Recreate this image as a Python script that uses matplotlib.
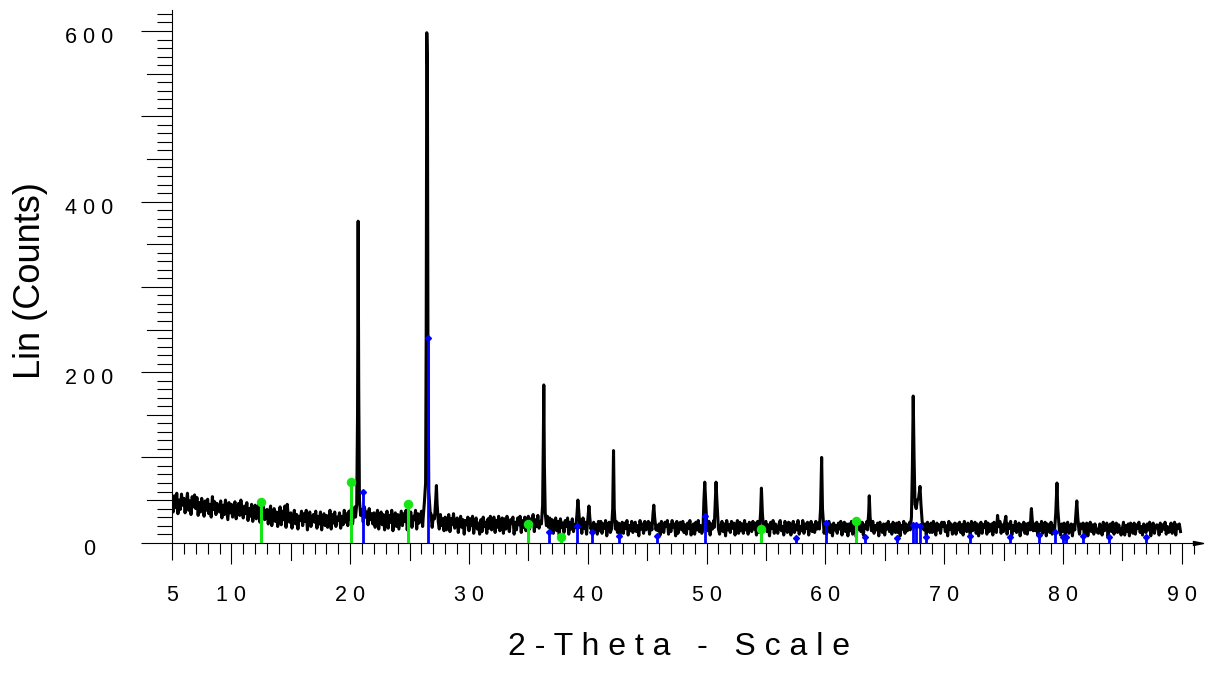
import numpy as np
import matplotlib
matplotlib.use("Agg")
import matplotlib.pyplot as plt
from matplotlib.ticker import FixedLocator
from matplotlib.transforms import blended_transform_factory, ScaledTranslation
from matplotlib.path import Path

plt.rcParams['font.family'] = ['Liberation Sans', 'DejaVu Sans']

# ---------------- data ----------------
scan_start = 5.0
scan_step = 0.1
# background counts, one row per degree (5.0 ... 89.9)
base_counts = [
    47, 36, 55, 41, 58, 34, 50, 39, 57, 44,
    52, 35, 46, 58, 38, 49, 33, 54, 42, 56,
    40, 53, 32, 47, 36, 52, 44, 31, 49, 38,
    51, 34, 45, 30, 54, 39, 48, 33, 46, 41,
    36, 49, 29, 44, 33, 50, 38, 27, 47, 35,
    45, 30, 41, 48, 28, 39, 46, 32, 50, 37,
    29, 43, 34, 47, 26, 40, 31, 45, 25, 38,
    44, 28, 36, 46, 24, 41, 30, 42, 27, 35,
    39, 22, 34, 43, 20, 31, 40, 25, 36, 19,
    33, 42, 21, 37, 27, 43, 18, 45, 30, 24,
    35, 17, 29, 38, 22, 33, 16, 31, 26, 37,
    20, 34, 25, 38, 15, 30, 36, 19, 28, 33,
    24, 37, 17, 31, 22, 36, 15, 29, 34, 20,
    32, 18, 27, 38, 16, 33, 23, 36, 19, 30,
    26, 35, 17, 31, 21, 38, 24, 34, 20, 37,
    27, 40, 22, 36, 42, 30, 35, 28, 33, 38,
    39, 24, 42, 30, 36, 21, 40, 27, 34, 22,
    35, 18, 31, 38, 16, 29, 36, 21, 33, 15,
    28, 37, 17, 32, 24, 38, 14, 30, 35, 19,
    33, 16, 27, 37, 20, 34, 25, 38, 15, 29,
    22, 36, 18, 31, 27, 38, 16, 34, 23, 30,
    37, 19, 32, 24, 35, 28, 30, 22, 34, 18,
    31, 25, 30, 22, 29, 16, 33, 20, 28, 14,
    30, 15, 26, 33, 13, 28, 21, 34, 17, 25,
    29, 12, 24, 31, 18, 27, 10, 26, 21, 30,
    14, 28, 20, 31, 11, 25, 29, 16, 23, 10,
    27, 13, 30, 19, 24, 11, 28, 17, 31, 15,
    22, 30, 12, 26, 18, 31, 14, 25, 29, 11,
    28, 16, 31, 20, 13, 27, 23, 30, 10, 24,
    15, 29, 21, 31, 12, 26, 18, 30, 14, 27,
    31, 16, 28, 22, 33, 13, 27, 19, 32, 17,
    25, 14, 30, 20, 28, 16, 31, 18, 29, 12,
    27, 11, 22, 29, 14, 25, 9, 28, 18, 23,
    12, 26, 19, 29, 10, 24, 16, 28, 13, 21,
    28, 15, 25, 20, 27, 11, 29, 17, 24, 10,
    23, 13, 26, 18, 9, 24, 15, 21, 10, 25,
    14, 25, 11, 22, 17, 26, 8, 20, 24, 12,
    26, 10, 21, 15, 25, 12, 23, 9, 19, 24,
    11, 23, 17, 26, 9, 20, 14, 25, 12, 22,
    24, 13, 20, 8, 26, 16, 22, 11, 25, 15,
    18, 25, 10, 23, 13, 21, 26, 9, 20, 14,
    22, 9, 25, 16, 12, 24, 19, 26, 10, 21,
    13, 26, 18, 22, 8, 25, 11, 20, 24, 15,
    25, 12, 21, 10, 23, 17, 26, 9, 19, 22,
    10, 24, 15, 26, 13, 20, 11, 25, 18, 23,
    21, 14, 25, 9, 22, 16, 26, 12, 20, 11,
    24, 10, 19, 25, 13, 22, 8, 26, 15, 21,
    12, 25, 17, 23, 9, 20, 26, 11, 24, 14,
    22, 11, 26, 15, 21, 10, 24, 18, 13, 25,
    16, 23, 9, 25, 12, 22, 19, 26, 10, 20,
    25, 13, 21, 8, 24, 17, 26, 11, 22, 15,
    11, 22, 26, 14, 19, 9, 25, 20, 12, 24,
    23, 9, 18, 25, 12, 21, 15, 26, 10, 19,
    14, 26, 11, 22, 17, 24, 9, 20, 25, 13,
    21, 12, 25, 16, 23, 10, 24, 18, 22, 11,
    24, 10, 19, 25, 12, 21, 8, 23, 15, 20,
    11, 23, 16, 25, 9, 20, 24, 13, 22, 8,
    22, 14, 25, 10, 19, 24, 7, 21, 16, 25,
    13, 24, 9, 21, 17, 25, 11, 22, 14, 20,
    25, 11, 20, 15, 23, 8, 24, 18, 12, 22,
    9, 22, 16, 25, 13, 21, 10, 24, 19, 12,
    23, 12, 24, 8, 20, 16, 25, 11, 22, 14,
    16, 24, 11, 22, 19, 13, 25, 10, 23, 17,
    21, 10, 25, 14, 22, 9, 24, 17, 12, 23,
    12, 25, 18, 9, 23, 15, 21, 11, 24, 19,
    24, 13, 20, 8, 25, 16, 22, 10, 19, 23,
    10, 22, 15, 24, 12, 21, 9, 25, 17, 13,
    23, 16, 9, 25, 14, 20, 24, 11, 22, 8,
    15, 24, 11, 21, 18, 25, 10, 23, 13, 20,
    22, 9, 24, 16, 12, 32, 19, 25, 11, 21,
    13, 24, 31, 10, 22, 17, 25, 9, 20, 14,
    25, 12, 19, 23, 8, 21, 15, 24, 11, 22,
    10, 23, 16, 25, 13, 20, 22, 14, 24, 9,
    21, 14, 25, 11, 19, 24, 8, 22, 17, 12,
    24, 10, 20, 16, 23, 12, 25, 18, 9, 22,
    13, 23, 9, 20, 24, 11, 18, 22, 8, 21,
    20, 12, 24, 15, 10, 22, 17, 23, 9, 19,
    23, 8, 19, 24, 13, 21, 10, 22, 16, 12,
    11, 22, 16, 9, 24, 14, 20, 23, 7, 18,
    22, 13, 24, 10, 19, 23, 12, 21, 15, 9,
    16, 24, 9, 20, 13, 22, 8, 23, 18, 11,
    23, 10, 21, 17, 24, 12, 19, 9, 22, 14,
    12, 22, 15, 24, 8, 20, 23, 11, 18, 21,
    20, 9, 23, 13, 21, 16, 24, 10, 19, 12,
    14, 23, 11, 20, 24, 9, 21, 17, 22, 13,
]

# diffraction peaks: profile points (2-theta) and counts
peak_angles = [
    [20.45, 20.55, 20.62, 20.67, 20.72, 20.78, 20.88],
    [26.15, 26.25, 26.35, 26.40, 26.45, 26.50, 26.55, 26.62, 26.75],
    [27.10, 27.20, 27.26, 27.32, 27.42],
    [36.10, 36.20, 36.26, 36.30, 36.35, 36.42, 36.52],
    [39.00, 39.10, 39.17, 39.25, 39.35],
    [39.95, 40.05, 40.10, 40.17, 40.27],
    [42.00, 42.10, 42.17, 42.23, 42.33],
    [45.40, 45.50, 45.56, 45.63, 45.75],
    [49.70, 49.78, 49.85, 49.92, 50.02],
    [50.65, 50.73, 50.80, 50.87, 51.00],
    [54.45, 54.55, 54.62, 54.70, 54.80],
    [59.50, 59.60, 59.69, 59.76, 59.88],
    [63.55, 63.65, 63.70, 63.77, 63.88],
    [67.15, 67.25, 67.33, 67.40, 67.47, 67.55, 67.65, 67.75, 67.85, 67.97, 68.05, 68.15, 68.30],
    [77.25, 77.32, 77.35, 77.40, 77.50],
    [79.30, 79.40, 79.50, 79.57, 79.70],
    [81.00, 81.10, 81.17, 81.25, 81.35],
]
peak_counts = [
    [30, 45, 150, 377, 180, 50, 32],
    [30, 48, 70, 250, 598, 560, 220, 60, 32],
    [28, 50, 67, 45, 24],
    [22, 44, 120, 185, 90, 35, 20],
    [18, 35, 50, 35, 18],
    [18, 35, 43, 30, 16],
    [16, 40, 108, 40, 16],
    [15, 35, 44, 30, 15],
    [16, 50, 71, 50, 22],
    [18, 45, 71, 50, 16],
    [15, 35, 64, 35, 15],
    [16, 40, 100, 40, 16],
    [15, 35, 55, 30, 14],
    [15, 30, 90, 172, 100, 45, 40, 50, 52, 66, 45, 25, 15],
    [15, 35, 40, 30, 14],
    [15, 35, 70, 40, 15],
    [15, 35, 49, 30, 14],
]

# reference pattern sticks
green_angles = [12.51, 20.03, 24.88, 34.97, 37.72, 54.60, 62.58]
green_counts = [48, 71, 45, 22, 7, 16, 26]
blue_angles = [21.06, 26.56, 36.70, 39.10, 40.33, 42.63, 45.85, 49.85, 57.50,
               60.06, 63.35, 66.00, 67.38, 67.60, 67.97, 68.47, 72.17, 75.54,
               77.95, 79.35, 79.97, 80.25, 81.73, 83.84, 86.97]
blue_counts = [60, 240, 13, 20, 13, 8, 8, 31, 5,
               23, 7, 5, 21, 21, 19, 7, 8, 7,
               9, 13, 7, 7, 8, 7, 7]

x_tick_values = [5, 10, 20, 30, 40, 50, 60, 70, 80, 90]
x_tick_labels = ['5', '1 0', '2 0', '3 0', '4 0', '5 0', '6 0', '7 0', '8 0', '9 0']
y_tick_values = [0, 100, 200, 300, 400, 500, 600]
y_tick_labels = ['0', '', '2 0 0', '', '4 0 0', '', '6 0 0']

# ---------------- build the pattern ----------------
base_x = np.round(scan_start + scan_step * np.arange(len(base_counts)), 2)
base_y = np.array(base_counts, dtype=float)
keep = np.ones(len(base_x), dtype=bool)
for px in peak_angles:
    keep &= ~((base_x >= min(px)) & (base_x <= max(px)))
all_x = np.concatenate([base_x[keep]] + [np.array(p) for p in peak_angles])
all_y = np.concatenate([base_y[keep]] + [np.array(c, dtype=float) for c in peak_counts])
order = np.argsort(all_x)
all_x, all_y = all_x[order], all_y[order]

# ---------------- figure ----------------
W, H = 1208, 673
fig = plt.figure(figsize=(W / 100, H / 100), dpi=100)
ax_left, ax_right, ax_bottom, ax_top = 172, 1202, 542.7, 9.7
ax = fig.add_axes([ax_left / W, 1 - ax_bottom / H, (ax_right - ax_left) / W, (ax_bottom - ax_top) / H])
ax_w_px = ax_right - ax_left
ax_h_px = ax_bottom - ax_top

x_min, x_max = 5.0, 91.71
y_min, y_max = 0.0, 625.0
ax.set_xlim(x_min, x_max)
ax.set_ylim(y_min, y_max)

ax.plot(all_x, all_y, color='black', lw=2.2, zorder=2)

green = '#14e614'
blue = '#0000ff'
ax.vlines(blue_angles, 0, blue_counts, colors=blue, lw=2.0, zorder=3)
ax.plot(blue_angles, blue_counts, linestyle='none', marker='D', ms=3.0, color=blue, zorder=3)
ax.vlines(green_angles, 0, green_counts, colors=green, lw=2.2, zorder=4)
ax.plot(green_angles, green_counts, linestyle='none', marker='o', ms=5.8, color=green, zorder=4)

# spines
for s in ['top', 'right']:
    ax.spines[s].set_visible(False)
for s in ['left', 'bottom']:
    ax.spines[s].set_linewidth(0.8)
    ax.spines[s].set_color('black')

pt = 72 / 100.0  # points per pixel

# x ticks
ax.set_xticks(x_tick_values)
ax.set_xticklabels(x_tick_labels)
ax.xaxis.set_minor_locator(FixedLocator([v for v in range(6, 92) if v % 5 != 0]))
ax.tick_params(axis='x', which='major', direction='out', length=21 * pt, width=0.8,
               labelsize=15.5, pad=21 * pt)
ax.tick_params(axis='x', which='minor', direction='out', length=11 * pt, width=0.8)
ax.xaxis.get_major_ticks()[0].tick1line.set_markersize(17 * pt)
tx = blended_transform_factory(ax.transData, ax.transAxes)
for v in range(15, 90, 10):
    ax.plot([v, v], [0, -17 / ax_h_px], transform=tx, color='black', lw=0.8, clip_on=False)

# y ticks
ax.set_yticks(y_tick_values)
ax.set_yticklabels(y_tick_labels)
ax.yaxis.set_minor_locator(FixedLocator([v for v in range(10, 630, 10) if v % 50 != 0]))
ax.tick_params(axis='y', which='major', direction='out', length=31 * pt, width=0.8,
               labelsize=15.5, pad=52 * pt)
ax.tick_params(axis='y', which='minor', direction='out', length=15 * pt, width=0.8)
ty = blended_transform_factory(ax.transAxes, ax.transData)
for v in range(50, 600, 100):
    ax.plot([0, -25 / ax_w_px], [v, v], transform=ty, color='black', lw=0.8, clip_on=False)
for lab in ax.get_yticklabels():
    lab.set_ha('center')
    lab.set_transform(lab.get_transform() + ScaledTranslation(0, -4 / 100, fig.dpi_scale_trans))

# arrow at the end of the x axis
arrow = Path([(-1, -0.4), (1, 0), (-1, 0.4), (-1, -0.4)],
             [Path.MOVETO, Path.LINETO, Path.LINETO, Path.CLOSEPOLY])
ax.plot([x_max - 4 / (ax_w_px / (x_max - x_min))], [0], marker=arrow, ms=7.2,
        color='black', clip_on=False, zorder=5)

# axis labels
ax.set_xlabel('2 - T h e t a   -   S c a l e', fontsize=23, va='baseline')
ax.xaxis.set_label_coords((679.5 - ax_left) / ax_w_px, (ax_bottom - 655) / ax_h_px)
ax.set_ylabel('Lin (Counts)', fontsize=26, va='center', ha='center')
ax.yaxis.set_label_coords((31 - ax_left) / ax_w_px, (ax_bottom - 281) / ax_h_px)

fig.savefig('out.png', dpi=100)
